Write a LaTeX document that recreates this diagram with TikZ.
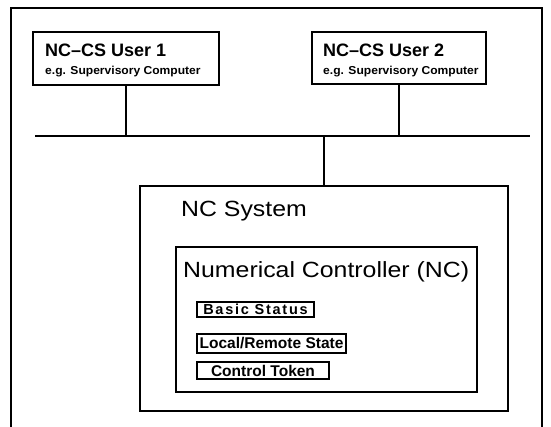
\documentclass[tikz,border=0pt]{standalone}
\usepackage{fontspec}
\setmainfont{Liberation Sans}
\newfontfamily\widefont[FakeStretch=1.13]{Liberation Sans}
\newfontfamily\subfont[FakeStretch=1.05]{Liberation Sans}
\newfontfamily\spacedfont[LetterSpace=12]{Liberation Sans}
\begin{document}
\begin{tikzpicture}[x=1pt,y=-1pt,
  frame/.style={line width=1.4pt},
  bigbox/.style={draw, line width=2.6pt, inner sep=0pt, outer sep=0pt},
  smallbox/.style={draw, line width=1.1pt, inner sep=0pt, outer sep=0pt},
  wire/.style={line width=2pt},
  busline/.style={line width=2.6pt},
  ttl/.style={anchor=base west, inner sep=0pt, font=\bfseries\fontsize{18}{20}\selectfont},
  sub/.style={anchor=base west, inner sep=0pt, font=\subfont\bfseries\fontsize{11.5}{13}\selectfont},
  big/.style={anchor=base west, inner sep=0pt, font=\widefont\fontsize{22}{25}\selectfont}
]
\useasboundingbox (0,0) rectangle (551,427);
\fill[white] (0,0) rectangle (551,427);
% outer frame (open at the bottom)
\draw[frame] (11,427) -- (11,8) -- (542,8) -- (542,427);
% user boxes
\node[bigbox, minimum width=186pt, minimum height=53pt] (u1) at (126,58.5) {};
\node[bigbox, minimum width=174pt, minimum height=52pt] (u2) at (399,58) {};
\node[ttl] (u1t) at (45,57) {NC–CS User 1};
\node[sub] (u1s) at (45,75) {e.g. Supervisory Computer};
\node[ttl] (u2t) at (323,57) {NC–CS User 2};
\node[sub] (u2s) at (323,75) {e.g. Supervisory Computer};
% bus
\coordinate (busL) at (35,136);
\coordinate (busR) at (530,136);
\draw[busline] (busL) -- (busR);
% NC system
\node[bigbox, minimum width=368pt, minimum height=225pt] (ncs) at (324,298.5) {};
\node[big] (ncst) at (181,217) {NC System};
\node[bigbox, minimum width=301pt, minimum height=145pt] (nc) at (326.5,319.5) {};
\node[big] (nct) at (183,278) {Numerical Controller (NC)};
% inner items
\node[smallbox, minimum width=117pt, minimum height=15pt, font=\spacedfont\bfseries\fontsize{14.5}{16}\selectfont] (bs) at (255.5,309.5) {Basic Status};
\node[smallbox, minimum width=149pt, minimum height=19pt, font=\bfseries\fontsize{15.5}{17}\selectfont] (lr) at (271.5,343.5) {Local/Remote State};
\node[smallbox, minimum width=132pt, minimum height=17pt, font=\bfseries\fontsize{15.5}{17}\selectfont] (ct) at (263,370.5) {Control Token};
% connectors
\draw[wire] (u1.south) -- (u1.south |- busL);
\draw[wire] (u2.south) -- (u2.south |- busL);
\draw[wire] (ncs.north) -- (ncs.north |- busL);
\end{tikzpicture}
\end{document}
